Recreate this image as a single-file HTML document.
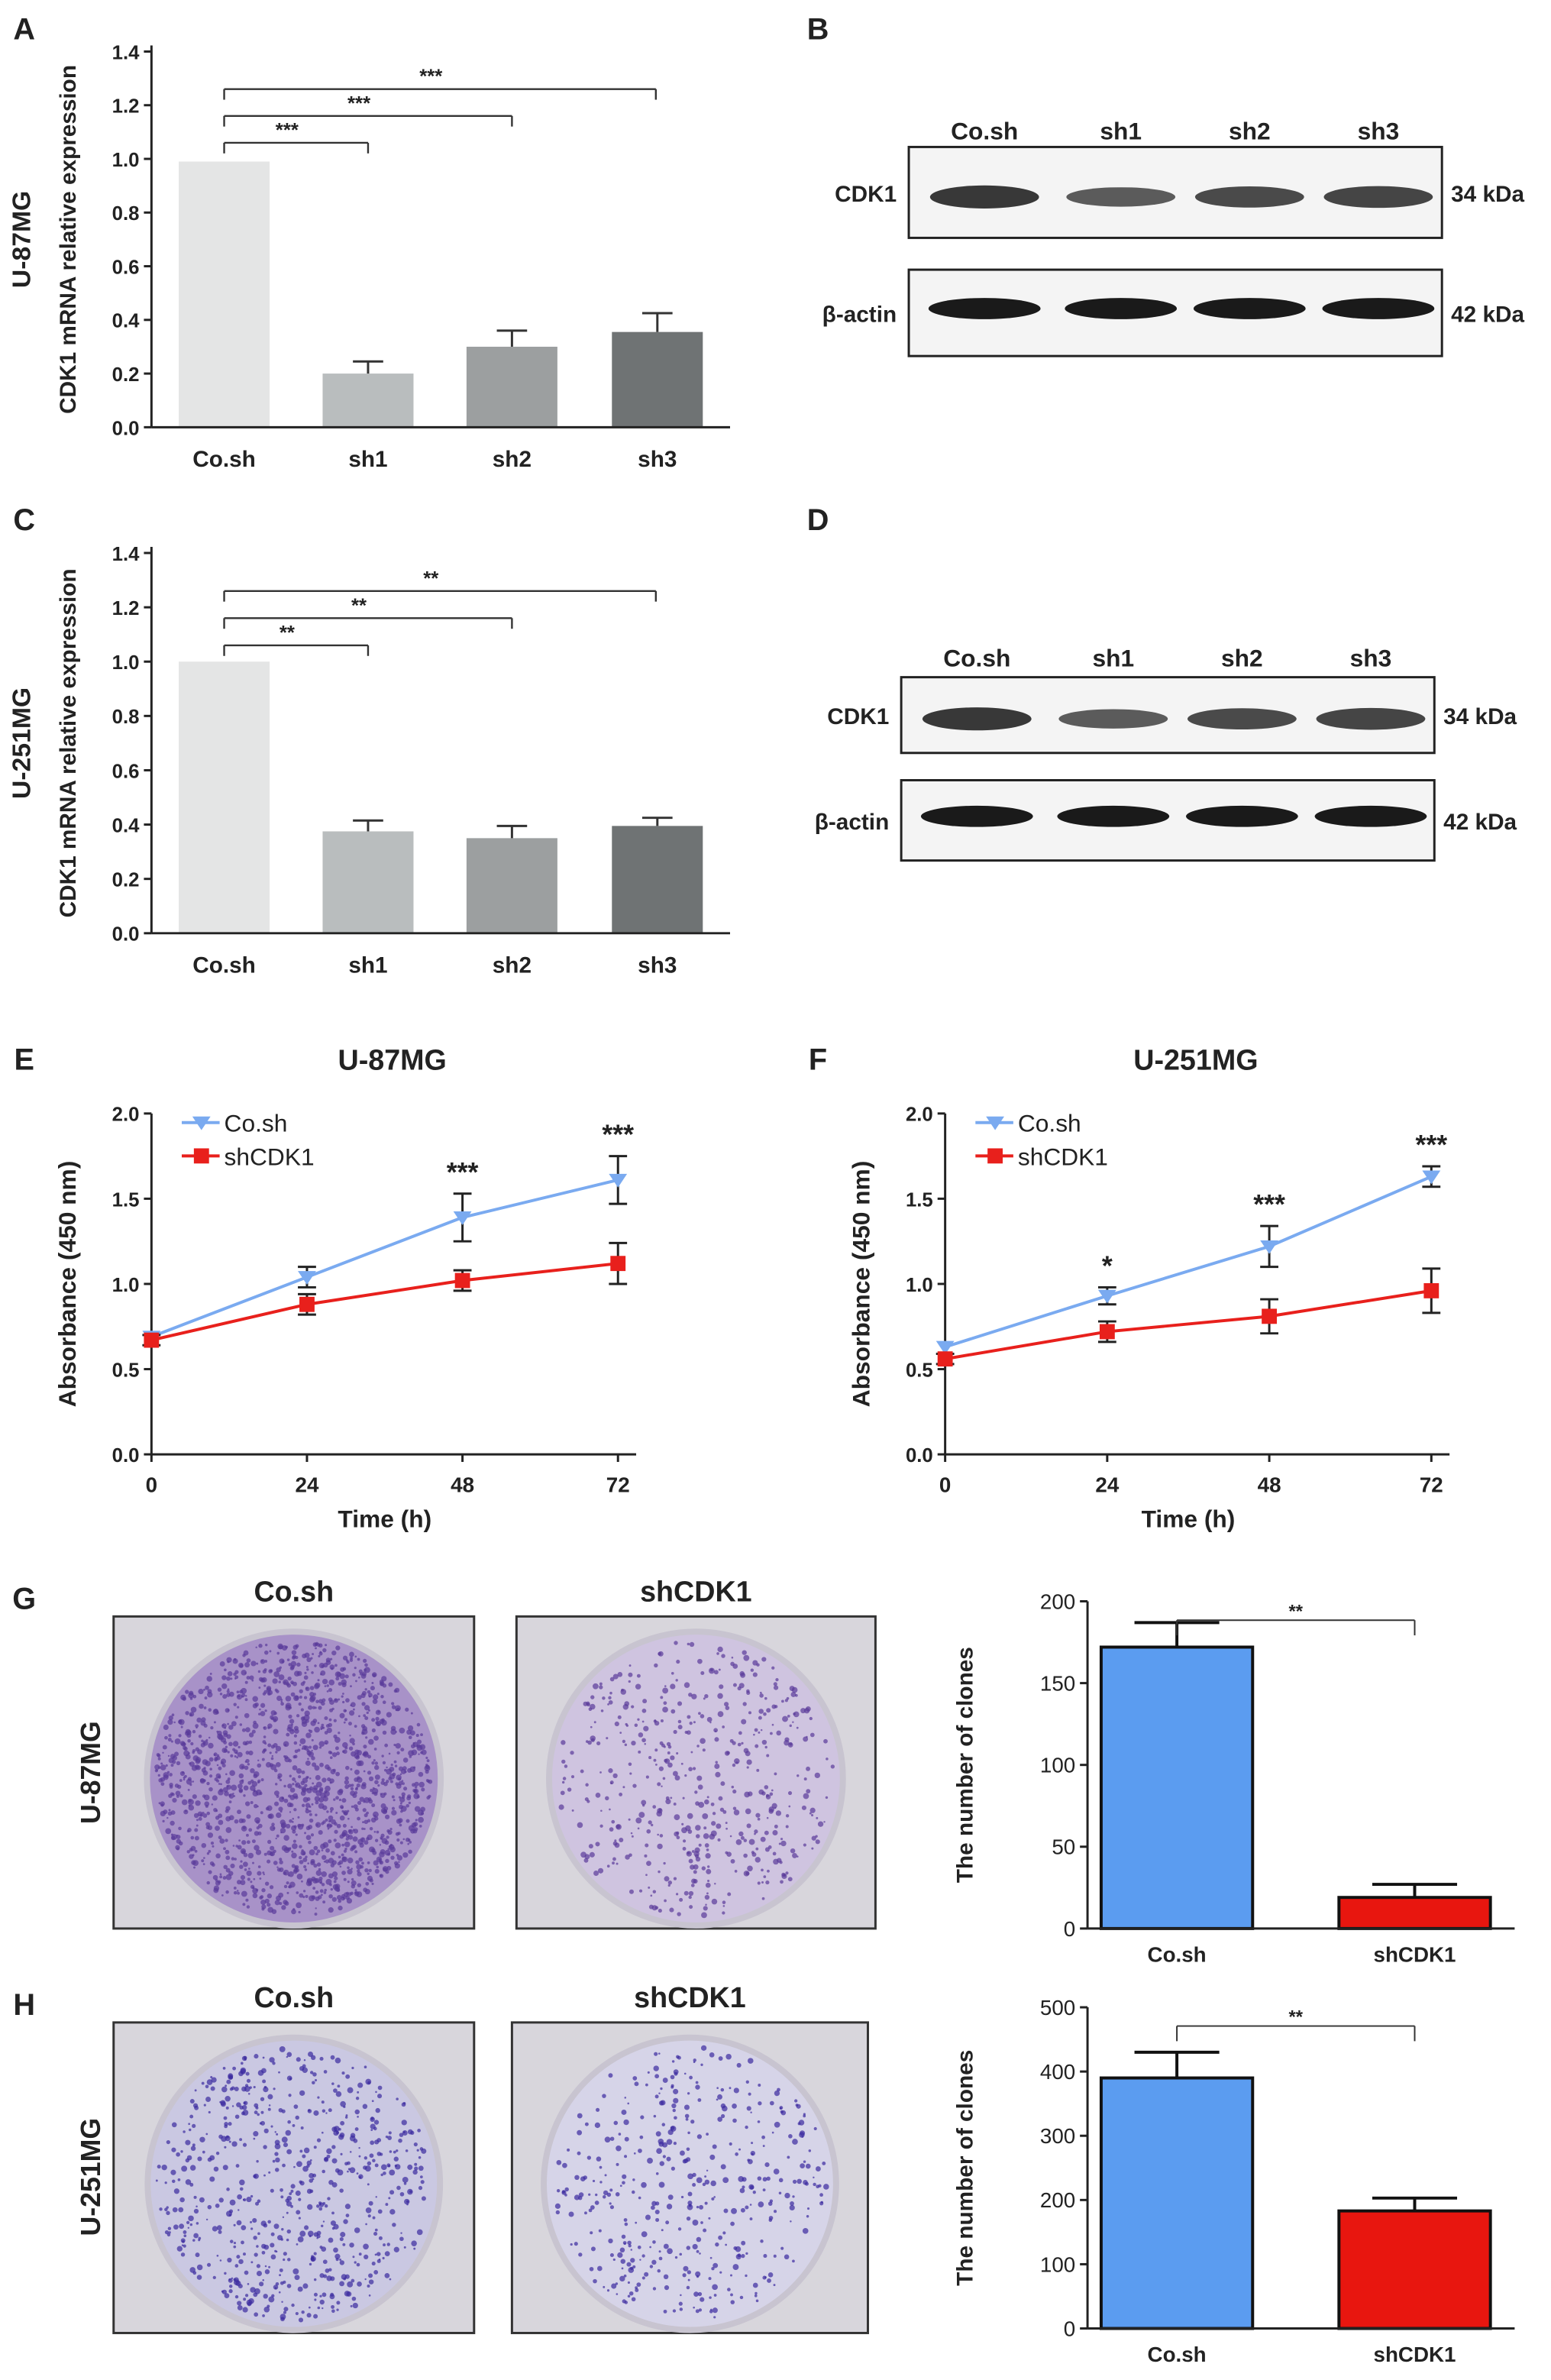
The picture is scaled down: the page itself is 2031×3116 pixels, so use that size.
<!DOCTYPE html>
<html><head><meta charset="utf-8">
<style>
html,body{margin:0;padding:0;background:#fff;}
svg{display:block;font-family:"Liberation Sans",Arial,sans-serif;}
</style></head>
<body>
<svg id="fig" width="2031" height="3116" viewBox="0 0 1024 1571" xmlns="http://www.w3.org/2000/svg"></svg>
<script>
// ---- Data ----
const barCats = ["Co.sh","sh1","sh2","sh3"];
const aValues = [0.99,0.20,0.30,0.355];
const aErrors = [0,0.045,0.06,0.07];
const cValues = [1.0,0.375,0.35,0.395];
const cErrors = [0,0.04,0.045,0.03];
const barTicks = [0,0.2,0.4,0.6,0.8,1.0,1.2,1.4];
const timePoints = [0,24,48,72];
const eCo = [0.69,1.04,1.39,1.61];
const eCoErr = [0.02,0.06,0.14,0.14];
const eSh = [0.67,0.88,1.02,1.12];
const eShErr = [0.03,0.06,0.06,0.12];
const fCo = [0.63,0.93,1.22,1.63];
const fCoErr = [0.02,0.05,0.12,0.06];
const fSh = [0.56,0.72,0.81,0.96];
const fShErr = [0.03,0.06,0.1,0.13];
const lineTicks = [0,0.5,1.0,1.5,2.0];
const cloneCats = ["Co.sh","shCDK1"];
const gValues = [172,19];
const gErrors = [15,8];
const gTicks = [0,50,100,150,200];
const hValues = [390,183];
const hErrors = [40,20];
const hTicks = [0,100,200,300,400,500];

const NS="http://www.w3.org/2000/svg";
const svg=document.getElementById('fig');
function el(tag,attrs,parent,text){const e=document.createElementNS(NS,tag);for(const k in attrs)e.setAttribute(k,attrs[k]);if(text!==undefined)e.textContent=text;(parent||svg).appendChild(e);return e;}
function grp(name){const g=el('g',{});return g;}
function txt(g,x,y,s,size,opts){opts=opts||{};const t=el('text',{x:x,y:y,'font-size':size,'font-weight':opts.w||'bold','text-anchor':opts.a||'middle',fill:opts.f||'#222'},g,s);if(opts.rot)t.setAttribute('transform','rotate(-90 '+x+' '+y+')');return t;}
function line(g,x1,y1,x2,y2,c,w){return el('line',{x1:x1,y1:y1,x2:x2,y2:y2,stroke:c||'#222','stroke-width':w||1.5},g);}

// ---- Panel letters ----
const letters=[["A",16,26],["B",540,26],["C",16,350],["D",540,350],["E",16,706],["F",540,706],["G",16,1062],["H",16,1330]];
const lg=grp('panel-letters');
letters.forEach(l=>txt(lg,l[1],l[2],l[0],20,{name:'panel-letter-'+l[0].toLowerCase()}));

// ---- Bar charts A / C ----
function barChart(name,y0,yTop,vals,errs,sigs,cellLabel){
  const g=grp(name);
  const ax=100, ymax=1.4;
  const Y=v=>y0-(v/ymax)*(y0-yTop);
  const xs=[148,243,338,434];
  const X=i=>xs[i];
  const colors=['#e4e5e5','#b9bdbe','#9c9fa0','#6f7374'];
  vals.forEach((v,i)=>{
    const r=el('rect',{x:X(i)-30,y:Y(v),width:60,height:y0-Y(v),fill:colors[i]},g);
    
    if(errs[i]>0){line(g,X(i),Y(v),X(i),Y(v+errs[i]),'#333',1.5);line(g,X(i)-10,Y(v+errs[i]),X(i)+10,Y(v+errs[i]),'#333',1.5);}
    txt(g,X(i),y0+26,barCats[i],15,{name:'x-tick-label'});
  });
  line(g,ax,yTop-4,ax,y0,'#222',1.5);
  line(g,ax,y0,482,y0,'#222',1.5);
  barTicks.forEach(t=>{line(g,ax-5,Y(t),ax,Y(t));txt(g,ax-8,Y(t)+5,t.toFixed(1),13,{a:'end',name:'y-tick-label'});});
  txt(g,50,(y0+yTop)/2,'CDK1 mRNA relative expression',15,{rot:1,name:'y-axis-title'});
  txt(g,20,(y0+yTop)/2,cellLabel,17,{rot:1,name:'cell-line-label'});
  const ends=[243,338,433];
  [0,1,2].forEach(k=>{
    const yb=Y(1.06+k*0.1);
    line(g,148,yb+7,148,yb,'#333',1.2);line(g,148,yb,ends[k],yb,'#333',1.2);line(g,ends[k],yb,ends[k],yb+7,'#333',1.2);
    txt(g,(148+ends[k])/2-6,yb-4,sigs,13,{name:'significance-stars'});
  });
}
barChart('chart-a-u87mg',282,34,aValues,aErrors,'***','U-87MG');
barChart('chart-c-u251mg',616,365,cValues,cErrors,'**','U-251MG');

// ---- Western blots ----
function blot(name,x,w,y1,h1,y2,h2,labY){
  const g=grp(name);
  const cx=[650,740,825,910].map(v=>x+(v-600)*w/352);
  barCats.forEach((c,i)=>txt(g,cx[i],labY,c,16,{name:'lane-label'}));
  el('rect',{x:x,y:y1,width:w,height:h1,fill:'#f4f4f4',stroke:'#222','stroke-width':1.5},g);
  el('rect',{x:x,y:y2,width:w,height:h2,fill:'#f4f4f4',stroke:'#222','stroke-width':1.5},g);
  const bw=[0.9,0.6,0.75,0.8];
  cx.forEach((c,i)=>{
    el('ellipse',{cx:c,cy:y1+h1*0.55,rx:36,ry:4+4*bw[i],fill:'#222',opacity:0.4+0.55*bw[i]},g);
    el('ellipse',{cx:c,cy:y2+h2*0.45,rx:37,ry:7,fill:'#1a1a1a'},g);
  });
  txt(g,x-8,y1+h1/2+6,'CDK1',15,{a:'end',name:'protein-label'});
  txt(g,x-8,y2+h2/2+6,'β-actin',15,{a:'end',name:'protein-label'});
  txt(g,x+w+6,y1+h1/2+6,'34 kDa',15,{a:'start',name:'mw-label'});
  txt(g,x+w+6,y2+h2/2+6,'42 kDa',15,{a:'start',name:'mw-label'});
}
blot('blot-b-u87mg',600,352,97,60,178,57,92);
blot('blot-d-u251mg',595,352,447,50,515,53,440);

// ---- Line charts E / F ----
function lineChart(name,ax,xEnd,title,co,coE,sh,shE,stars){
  const g=grp(name);
  const y0=960,yTop=735;
  const X=t=>ax+(t/72)*(xEnd-ax);
  const Y=v=>y0-(v/2)*(y0-yTop);
  line(g,ax,yTop,ax,y0);line(g,ax,y0,xEnd+12,y0);
  lineTicks.forEach(t=>{line(g,ax-5,Y(t),ax,Y(t));txt(g,ax-8,Y(t)+5,t.toFixed(1),13,{a:'end',name:'y-tick-label'});});
  timePoints.forEach(t=>{line(g,X(t),y0,X(t),y0+5);txt(g,X(t),y0+25,String(t),14,{name:'x-tick-label'});});
  txt(g,(ax+xEnd)/2,y0+48,'Time (h)',16,{name:'x-axis-title'});
  txt(g,ax-50,(y0+yTop)/2,'Absorbance (450 nm)',16,{rot:1,name:'y-axis-title'});
  txt(g,(ax+xEnd)/2+5,706,title,19,{name:'chart-title'});
  [[co,coE,'#7aaaf0','tri'],[sh,shE,'#e8201c','sq']].forEach(s=>{
    const pts=s[0].map((v,i)=>X(timePoints[i])+','+Y(v)).join(' ');
    el('polyline',{points:pts,fill:'none',stroke:s[2],'stroke-width':2},g);
    s[0].forEach((v,i)=>{
      const x=X(timePoints[i]);
      if(s[1][i]>0.025){line(g,x,Y(v-s[1][i]),x,Y(v+s[1][i]),'#222',1.5);line(g,x-6,Y(v+s[1][i]),x+6,Y(v+s[1][i]),'#222',1.5);line(g,x-6,Y(v-s[1][i]),x+6,Y(v-s[1][i]),'#222',1.5);}
      if(s[3]==='sq')el('rect',{x:x-5,y:Y(v)-5,width:10,height:10,fill:s[2]},g);
      else el('polygon',{points:(x-6)+','+(Y(v)-4)+' '+(x+6)+','+(Y(v)-4)+' '+x+','+(Y(v)+5),fill:s[2]},g);
    });
  });
  stars.forEach((s,i)=>{if(s)txt(g,X(timePoints[i]),Y(co[i]+coE[i])-8,s,18,{name:'significance-stars'});});
  const lgd=grp('legend');g.appendChild(lgd);
  line(lgd,ax+20,741,ax+45,741,'#7aaaf0',2);el('polygon',{points:(ax+27)+',737 '+(ax+39)+',737 '+(ax+33)+',746',fill:'#7aaaf0'},lgd);
  txt(lgd,ax+48,747,'Co.sh',16,{a:'start',w:'normal',name:'legend-entry'});
  line(lgd,ax+20,763,ax+45,763,'#e8201c',2);el('rect',{x:ax+28,y:758,width:10,height:10,fill:'#e8201c'},lgd);
  txt(lgd,ax+48,769,'shCDK1',16,{a:'start',w:'normal',name:'legend-entry'});
}
lineChart('chart-e-u87mg',100,408,'U-87MG',eCo,eCoErr,eSh,eShErr,['','','***','***']);
lineChart('chart-f-u251mg',624,945,'U-251MG',fCo,fCoErr,fSh,fShErr,['','*','***','***']);

// ---- Colony plates ----
let seed=7;function rnd(){seed=(seed*9301+49297)%233280;return seed/233280;}
function plate(name,x,y,w,h,bg,dot,density,label){
  const g=grp(name);
  el('rect',{x:x,y:y,width:w,height:h,fill:'#d8d6dc',stroke:'#333','stroke-width':1.5},g);
  const cx=x+w/2,cy=y+h/2+4,r=Math.min(w,h)/2-6;
  el('circle',{cx:cx,cy:cy,r:r,fill:bg,stroke:'#c8c4d0','stroke-width':4},g);
  for(let i=0;i<density;i++){const a=rnd()*6.283,d=Math.sqrt(rnd())*(r-6);
    el('circle',{cx:cx+Math.cos(a)*d,cy:cy+Math.sin(a)*d,r:0.6+rnd()*1.4,fill:dot,opacity:0.7},g);}
  txt(g,x+w/2,y-10,label,19,{name:'plate-label'});
}
plate('plate-g-cosh',75,1067,238,206,'#a892c8','#5a3a9a',1500,'Co.sh');
plate('plate-g-shcdk1',341,1067,237,206,'#cfc4e0','#5a3a9a',500,'shCDK1');
plate('plate-h-cosh',75,1335,238,205,'#cac8e2','#3a2aa0',650,'Co.sh');
plate('plate-h-shcdk1',338,1335,235,205,'#d6d4e8','#3a2aa0',420,'shCDK1');
const cl=grp('plate-cell-labels');
txt(cl,66,1170,'U-87MG',18,{rot:1,name:'cell-line-label'});
txt(cl,66,1437,'U-251MG',18,{rot:1,name:'cell-line-label'});

// ---- Clone bar charts G / H ----
function cloneChart(name,y0,yTop,ticks,vals,errs){
  const g=grp(name);
  const ax=718,ymax=ticks[ticks.length-1];
  const Y=v=>y0-(v/ymax)*(y0-yTop);
  const xs=[777,934];
  const colors=['#5b9cf0','#e8160f'];
  vals.forEach((v,i)=>{
    line(g,xs[i],Y(v),xs[i],Y(v+errs[i]),'#111',2);line(g,xs[i]-28,Y(v+errs[i]),xs[i]+28,Y(v+errs[i]),'#111',2);
    const r=el('rect',{x:xs[i]-50,y:Y(v),width:100,height:y0-Y(v),fill:colors[i],stroke:'#111','stroke-width':2},g);
    
    txt(g,xs[i],y0+22,cloneCats[i],14,{name:'x-tick-label'});
  });
  line(g,ax,yTop,ax,y0);line(g,ax,y0,1000,y0);
  ticks.forEach(t=>{line(g,ax-5,Y(t),ax,Y(t));txt(g,ax-8,Y(t)+5,String(t),14,{a:'end',w:'normal',name:'y-tick-label'});});
  txt(g,ax-76,(y0+yTop)/2,'The number of clones',15,{rot:1,name:'y-axis-title'});
  const yb=yTop+(y0-yTop)*0.03+6;
  line(g,xs[0],yb+10,xs[0],yb,'#333',1);line(g,xs[0],yb,xs[1],yb,'#333',1);line(g,xs[1],yb,xs[1],yb+10,'#333',1);
  txt(g,(xs[0]+xs[1])/2,yb-2,'**',12,{name:'significance-stars'});
}
cloneChart('chart-g-clones',1273,1057,gTicks,gValues,gErrors);
cloneChart('chart-h-clones',1537,1325,hTicks,hValues,hErrors);
</script>
</body></html>
